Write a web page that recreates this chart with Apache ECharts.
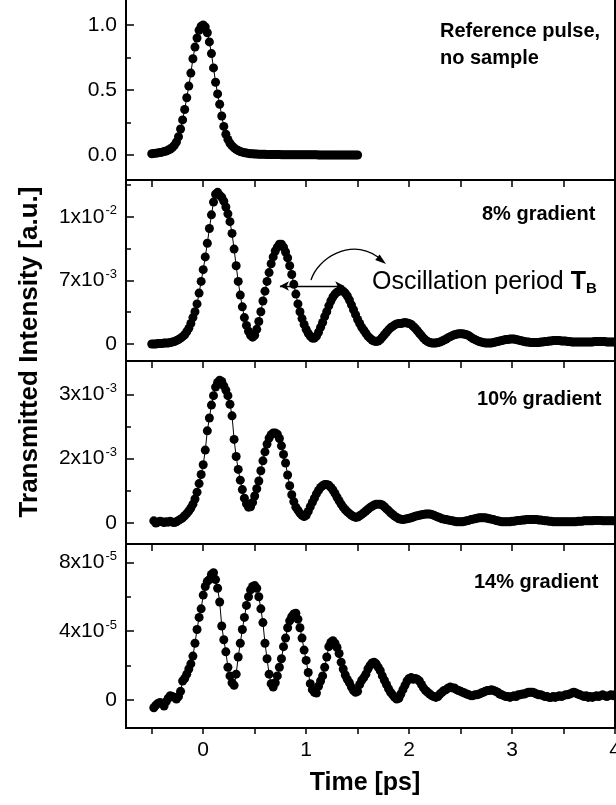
<!DOCTYPE html>
<html><head><meta charset="utf-8">
<script src="https://cdn.jsdelivr.net/npm/echarts@6/dist/echarts.min.js"></script>
<style>html,body{margin:0;padding:0;background:#fff}#c{width:616px;height:805px}</style>
</head><body><div id="c"></div>
<script>
// ---------------- DATA ----------------
const step = 0.02; // sampling interval of the measured traces [ps]

// Reference pulse (normalised), starts at -0.5 ps
const refStart = -0.5;
const refValues = [
0.010,0.012,0.014,0.016,0.019,0.022,0.026,0.031,0.038,0.046,
0.058,0.075,0.10,0.14,0.20,0.27,0.35,0.44,0.53,0.63,
0.74,0.83,0.90,0.96,0.99,1.00,0.985,0.94,0.87,0.78,
0.67,0.56,0.47,0.39,0.30,0.22,0.16,0.12,0.09,0.07,
0.055,0.043,0.034,0.027,0.022,0.018,0.015,0.012,0.010,0.009,
0.008,0.007,0.006,0.006,0.005,0.005,0.004,0.004,0.004,0.003,
0.003,0.003,0.003,0.002,0.002,0.002,0.002,0.002,0.002,0.001,
0.001,0.001,0.001,0.001,0.001,0.001,0.001,0.001,0.001,0.001,
0.001,0,0,0,0,0,0,0,0,0,
0,0,0,0,0,0,0,0,0,0,
0];

// 8% gradient, units of 1e-3, starts at -0.5 ps
const g8Start = -0.5;
const g8Values = [
0.0,0.0,0.0,0.05,0.05,0.05,0.1,0.1,0.1,0.15,
0.2,0.25,0.35,0.45,0.6,0.75,0.95,1.25,1.6,2.1,
2.7,3.3,4.1,5.2,6.4,7.6,8.9,10.3,11.8,13.2,
14.5,15.3,15.5,15.2,15.0,14.6,14.0,13.3,12.5,11.3,
9.7,8.0,6.4,5.0,3.8,2.7,1.9,1.3,0.9,0.7,
0.9,1.5,2.3,3.3,4.4,5.4,6.4,7.3,8.2,8.9,
9.5,9.9,10.2,10.2,9.9,9.4,8.8,8.0,7.1,6.1,
5.1,4.1,3.3,2.6,2.0,1.5,1.1,0.8,0.6,0.6,
0.8,1.2,1.7,2.2,2.8,3.3,3.9,4.4,4.8,5.1,
5.3,5.4,5.45,5.4,5.2,4.9,4.5,4.0,3.5,3.0,
2.5,2.1,1.7,1.4,1.1,0.8,0.6,0.4,0.3,0.25,
0.3,0.45,0.7,0.95,1.2,1.45,1.65,1.8,1.95,2.05,
2.1,2.1,2.15,2.2,2.15,2.1,2.0,1.8,1.6,1.35,
1.1,0.85,0.6,0.4,0.25,0.15,0.1,0.1,0.1,0.15,
0.2,0.3,0.4,0.5,0.65,0.75,0.85,0.95,1.0,1.05,
1.05,1.05,1.0,0.95,0.85,0.7,0.55,0.45,0.35,0.25,
0.2,0.15,0.1,0.1,0.1,0.1,0.15,0.2,0.25,0.3,
0.35,0.4,0.45,0.45,0.5,0.5,0.5,0.45,0.4,0.35,
0.3,0.25,0.2,0.2,0.15,0.15,0.15,0.15,0.15,0.2,
0.2,0.25,0.25,0.3,0.3,0.35,0.35,0.35,0.35,0.3,
0.3,0.3,0.25,0.25,0.2,0.2,0.2,0.2,0.2,0.2,
0.2,0.2,0.2,0.2,0.2,0.25,0.25,0.25,0.25,0.25,
0.25,0.2,0.2,0.2,0.2,0.2];

// 10% gradient, units of 1e-3, starts at -0.48 ps
const g10Start = -0.48;
const g10Values = [
0.05,0.0,0.02,0.04,0.03,0.01,0.03,0.02,0.04,0.02,
0.01,0.03,0.06,0.09,0.12,0.17,0.22,0.28,0.35,0.44,
0.56,0.72,0.92,1.13,1.36,1.7,2.15,2.45,2.75,2.97,
3.17,3.28,3.33,3.3,3.2,3.1,2.97,2.77,2.5,1.95,
1.55,1.25,1.0,0.78,0.58,0.45,0.37,0.38,0.48,0.63,
0.8,0.98,1.22,1.45,1.66,1.84,1.98,2.06,2.1,2.1,
2.07,1.97,1.8,1.6,1.4,1.12,0.87,0.66,0.5,0.37,
0.3,0.23,0.18,0.15,0.18,0.27,0.38,0.48,0.58,0.68,
0.76,0.83,0.87,0.9,0.9,0.88,0.83,0.77,0.69,0.6,
0.52,0.44,0.37,0.31,0.26,0.22,0.18,0.15,0.13,0.14,
0.17,0.2,0.24,0.28,0.32,0.36,0.39,0.42,0.44,0.44,
0.44,0.42,0.38,0.33,0.29,0.24,0.2,0.16,0.13,0.1,
0.09,0.08,0.09,0.1,0.11,0.12,0.14,0.16,0.17,0.18,
0.19,0.2,0.21,0.21,0.21,0.2,0.18,0.16,0.14,0.12,
0.1,0.09,0.08,0.07,0.06,0.05,0.04,0.03,0.03,0.03,
0.03,0.04,0.05,0.06,0.08,0.09,0.1,0.11,0.12,0.12,
0.12,0.12,0.11,0.1,0.09,0.08,0.06,0.05,0.04,0.03,
0.03,0.03,0.03,0.03,0.04,0.04,0.05,0.06,0.06,0.07,
0.07,0.08,0.08,0.08,0.08,0.08,0.08,0.07,0.07,0.06,
0.05,0.05,0.04,0.04,0.03,0.03,0.03,0.03,0.03,0.03,
0.03,0.03,0.03,0.03,0.03,0.03,0.04,0.04,0.04,0.05,
0.05,0.05,0.05,0.05,0.06,0.06,0.06,0.06,0.05,0.05,
0.05,0.05,0.05,0.05,0.05];

// 14% gradient, units of 1e-5, starts at -0.48 ps
const g14Start = -0.48;
const g14Values = [
-0.45,-0.3,-0.2,-0.15,-0.2,-0.35,-0.1,0.1,0.25,0.2,
0.15,0.05,0.2,0.5,1.1,1.25,1.5,1.8,2.1,2.55,
3.3,4.1,4.8,5.3,6.1,6.6,6.9,7.0,7.3,7.4,
7.0,6.5,5.7,4.3,3.5,2.8,1.9,1.4,1.0,0.85,
1.5,2.5,3.3,4.1,4.8,5.5,6.0,6.4,6.6,6.65,
6.5,6.0,5.3,4.5,3.3,2.4,1.5,0.95,0.75,1.0,
1.4,1.9,2.4,3.1,3.6,4.2,4.6,4.85,5.0,5.05,
4.7,4.2,3.6,2.9,2.3,1.6,0.95,0.6,0.45,0.4,
0.8,1.1,1.4,1.9,2.5,3.1,3.35,3.45,3.3,3.05,
2.7,2.2,1.8,1.45,1.2,1.0,0.75,0.55,0.45,0.5,
0.9,1.15,1.3,1.5,1.8,2.0,2.15,2.2,2.1,1.9,
1.7,1.4,1.15,0.9,0.65,0.45,0.3,0.15,0.05,0.1,
0.35,0.6,0.85,1.1,1.25,1.3,1.2,1.25,1.2,1.1,
0.9,0.7,0.55,0.45,0.35,0.25,0.2,0.15,0.2,0.35,
0.45,0.55,0.6,0.7,0.75,0.7,0.7,0.6,0.55,0.5,
0.45,0.4,0.35,0.3,0.25,0.25,0.3,0.3,0.35,0.4,
0.45,0.5,0.55,0.55,0.6,0.55,0.5,0.45,0.35,0.3,
0.25,0.2,0.2,0.15,0.2,0.25,0.2,0.3,0.3,0.35,
0.35,0.4,0.45,0.45,0.45,0.4,0.35,0.3,0.3,0.25,
0.2,0.2,0.15,0.15,0.2,0.15,0.2,0.25,0.2,0.25,
0.3,0.3,0.35,0.4,0.45,0.4,0.35,0.3,0.25,0.2,
0.25,0.15,0.2,0.15,0.2,0.25,0.2,0.25,0.3,0.25,
0.2,0.25,0.3,0.25,0.3];

// Axis ticks and labels
const xTickValues = [-0.5,0,0.5,1,1.5,2,2.5,3,3.5,4];
const xLabelValues = [0,1,2,3,4];
const refTicks = [0,0.5,1.0];   const refTickLabels = ['0.0','0.5','1.0'];     const refMinor = [0.25,0.75];
const g8Ticks  = [0,6.5,13];    const g8TickLabels  = ['0','7x10^-3','1x10^-2']; const g8Minor = [3.25,9.75,16.25];
const g10Ticks = [0,1.5,3];     const g10TickLabels = ['0','2x10^-3','3x10^-3']; const g10Minor = [0.75,2.25];
const g14Ticks = [0,4,8];       const g14TickLabels = ['0','4x10^-5','8x10^-5']; const g14Minor = [2,6];
const panelLabels = ['Reference pulse,','no sample','8% gradient','10% gradient','14% gradient'];
const yTitle = 'Transmitted Intensity [a.u.]';
const xTitle = 'Time [ps]';
const annotation = 'Oscillation period ';

// ---------------- CHART ----------------
const FF = '"Liberation Sans", Arial, Helvetica, sans-serif';
const panels = [
  {top:-2,  height:182, min:-0.1923, max:1.2077, ticks:refTicks, labels:refTickLabels, minor:refMinor, start:refStart, values:refValues, topTicks:false},
  {top:180, height:181, min:-1.737,  max:16.76,  ticks:g8Ticks,  labels:g8TickLabels,  minor:g8Minor,  start:g8Start,  values:g8Values,  topTicks:true},
  {top:361, height:183, min:-0.49,   max:3.779,  ticks:g10Ticks, labels:g10TickLabels, minor:g10Minor, start:g10Start, values:g10Values, topTicks:true},
  {top:544, height:184, min:-1.63,   max:9.07,   ticks:g14Ticks, labels:g14TickLabels, minor:g14Minor, start:g14Start, values:g14Values, topTicks:true}
];
function toData(start, values){ return values.map((v,i)=>[Math.round((start+i*step)*100)/100, v]); }
function makeFormatter(p){
  return function(value){
    const i = p.ticks.findIndex(t => Math.abs(t - value) < 1e-6);
    if (i < 0) return '';
    const s = p.labels[i];
    const k = s.indexOf('^');
    return k < 0 ? '{m|' + s + '}' : '{m|' + s.slice(0,k) + '}{e|' + s.slice(k+1) + '}';
  };
}
const richLbl = {
  m:{fontSize:21, fontFamily:FF, color:'#000', lineHeight:25},
  e:{fontSize:13, fontFamily:FF, color:'#000', lineHeight:13, verticalAlign:'top', padding:[0,0,0,1]}
};
const grid = [], xAxis = [], yAxis = [], series = [];
panels.forEach((p,i)=>{
  grid.push({left:126, right:1, top:p.top, height:p.height, show:true, borderColor:'#000', borderWidth:2,
    backgroundColor:'rgba(0,0,0,0)', containLabel:false, outerBoundsMode:'none'});
  xAxis.push({gridIndex:i, type:'value', min:-0.75, max:4, position:'top',
    axisLine:{show:false, onZero:false}, splitLine:{show:false}, axisLabel:{show:false},
    axisTick:{show:p.topTicks, inside:true, length:7, customValues:xTickValues, lineStyle:{color:'#000', width:1.5}}});
  yAxis.push({gridIndex:i, type:'value', min:p.min, max:p.max, position:'left',
    axisLine:{show:false, onZero:false}, splitLine:{show:false},
    axisTick:{show:true, inside:true, length:8, customValues:p.ticks, lineStyle:{color:'#000', width:1.5}},
    axisLabel:{show:true, customValues:p.ticks, formatter:makeFormatter(p), margin:9, rich:richLbl}});
  yAxis.push({gridIndex:i, type:'value', min:p.min, max:p.max, position:'left',
    axisLine:{show:false, onZero:false}, splitLine:{show:false}, axisLabel:{show:false},
    axisTick:{show:true, inside:true, length:5, customValues:p.minor, lineStyle:{color:'#000', width:1.5}}});
  const s = {type:'line', xAxisIndex:i, yAxisIndex:2*i, data:toData(p.start, p.values),
    symbol:'circle', symbolSize:9, showSymbol:true, showAllSymbol:true, clip:true,
    itemStyle:{color:'#000'}, lineStyle:{color:'#000', width:1}, animation:false, silent:true, z:3};
  if (i === 1) {
    s.markLine = {silent:true, animation:false, symbol:['arrow','arrow'], symbolSize:[7,9],
      lineStyle:{color:'#000', width:1.3, type:'solid'}, label:{show:false},
      data:[[{coord:[0.745,5.93]},{coord:[1.37,5.93]}]]};
  }
  series.push(s);
});
// bottom time axis
xAxis.push({gridIndex:3, type:'value', min:-0.75, max:4, position:'bottom',
  axisLine:{show:false, onZero:false}, splitLine:{show:false},
  axisTick:{show:true, inside:false, length:6, customValues:xTickValues, lineStyle:{color:'#000', width:1.5}},
  axisLabel:{show:true, customValues:xLabelValues, margin:12, fontSize:21, fontFamily:FF, color:'#000', hideOverlap:false}});

const lblFont = {fontSize:20, fontWeight:'bold', fontFamily:FF, fill:'#000', verticalAlign:'middle'};
const graphic = [
  {type:'text', x:440, y:31, style:Object.assign({text:panelLabels[0]}, lblFont)},
  {type:'text', x:440, y:58, style:Object.assign({text:panelLabels[1]}, lblFont)},
  {type:'text', x:482, y:214, style:Object.assign({text:panelLabels[2]}, lblFont)},
  {type:'text', x:477, y:399, style:Object.assign({text:panelLabels[3]}, lblFont)},
  {type:'text', x:474, y:582, style:Object.assign({text:panelLabels[4]}, lblFont)},
  {type:'text', x:372, y:282, style:{
    text:'{n|' + annotation + '}{t|T}{s|B}', verticalAlign:'middle',
    rich:{
      n:{fontSize:25, fontFamily:FF, color:'#000', lineHeight:28},
      t:{fontSize:25, fontFamily:FF, fontWeight:'bold', color:'#000', lineHeight:28},
      s:{fontSize:15, fontFamily:FF, fontWeight:'bold', color:'#000', lineHeight:15, verticalAlign:'bottom'}
    }}},
  {type:'bezierCurve', shape:{x1:311, y1:280, cpx1:318, cpy1:258, cpx2:350, cpy2:238, x2:378, y2:257},
    style:{stroke:'#000', lineWidth:1.3, fill:null}},
  {type:'polygon', shape:{points:[[386,264],[375.2,260.0],[379.6,254.4]]}, style:{fill:'#000'}},
  {type:'text', x:30, y:352, rotation:Math.PI/2, style:{text:yTitle, fontSize:26, fontWeight:'bold', fontFamily:FF, fill:'#000', align:'center', verticalAlign:'middle'}},
  {type:'text', x:365, y:783, style:{text:xTitle, fontSize:25, fontWeight:'bold', fontFamily:FF, fill:'#000', align:'center', verticalAlign:'middle'}}
];

const chart = echarts.init(document.getElementById('c'), null, {renderer:'canvas'});
chart.setOption({animation:false, backgroundColor:'#fff', grid, xAxis, yAxis, series, graphic});
</script>
</body></html>
